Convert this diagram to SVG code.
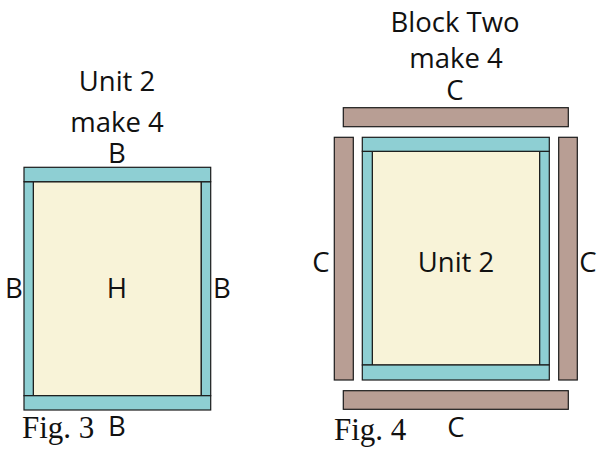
<svg xmlns="http://www.w3.org/2000/svg" width="598" height="449" viewBox="0 0 598 449">
<style>
.t{fill:#8ecfd3;stroke:#1a1a1a;stroke-width:1.2}
.y{fill:#f8f3d8;stroke:#1a1a1a;stroke-width:1.2}
.c{fill:#b89e94;stroke:#1a1a1a;stroke-width:1.2}
.s{font-family:"Open Sans","Noto Sans",sans-serif;font-size:27.5px;fill:#111;text-anchor:middle}
.f{font-family:"Liberation Serif",serif;font-size:31px;fill:#111}
</style>
<rect width="598" height="449" fill="#fff"/>
<g id="fig3">
<text class="s" x="117" y="91">Unit 2</text>
<text class="s" x="117" y="132">make 4</text>
<text class="s" x="117" y="163">B</text>
<g id="unit2-fig3">
<rect class="y" x="33.3" y="181.7" width="168" height="214"/>
<rect class="t" x="24" y="181.7" width="9.3" height="214"/>
<rect class="t" x="201.3" y="181.7" width="9.4" height="214"/>
<rect class="t" x="24" y="167.3" width="186.7" height="14.4"/>
<rect class="t" x="24" y="395.7" width="186.7" height="14.3"/>
</g>
<text class="s" x="117" y="298">H</text>
<text class="s" x="14" y="298">B</text>
<text class="s" x="222" y="298">B</text>
<text class="s" x="117" y="436">B</text>
<text class="f" x="22" y="438">Fig. 3</text>
</g>
<g id="fig4">
<text class="s" x="455" y="32">Block Two</text>
<text class="s" x="456" y="68">make 4</text>
<text class="s" x="455" y="100">C</text>
<rect class="c" x="343.3" y="107.7" width="225" height="19"/>
<rect class="c" x="343.3" y="390.7" width="225" height="18.6"/>
<rect class="c" x="334.3" y="137.3" width="19" height="242.7"/>
<rect class="c" x="558.7" y="137.3" width="18.6" height="242.7"/>
<g id="unit2-fig4">
<rect class="y" x="372.3" y="151.3" width="167.4" height="213.7"/>
<rect class="t" x="362.3" y="151.3" width="10" height="213.7"/>
<rect class="t" x="539.7" y="151.3" width="9.6" height="213.7"/>
<rect class="t" x="362.3" y="137.3" width="187" height="14"/>
<rect class="t" x="362.3" y="365" width="187" height="15"/>
</g>
<text class="s" x="456" y="272">Unit 2</text>
<text class="s" x="321" y="272">C</text>
<text class="s" x="588" y="272">C</text>
<text class="s" x="456" y="437">C</text>
<text class="f" x="334" y="440">Fig. 4</text>
</g>
</svg>
